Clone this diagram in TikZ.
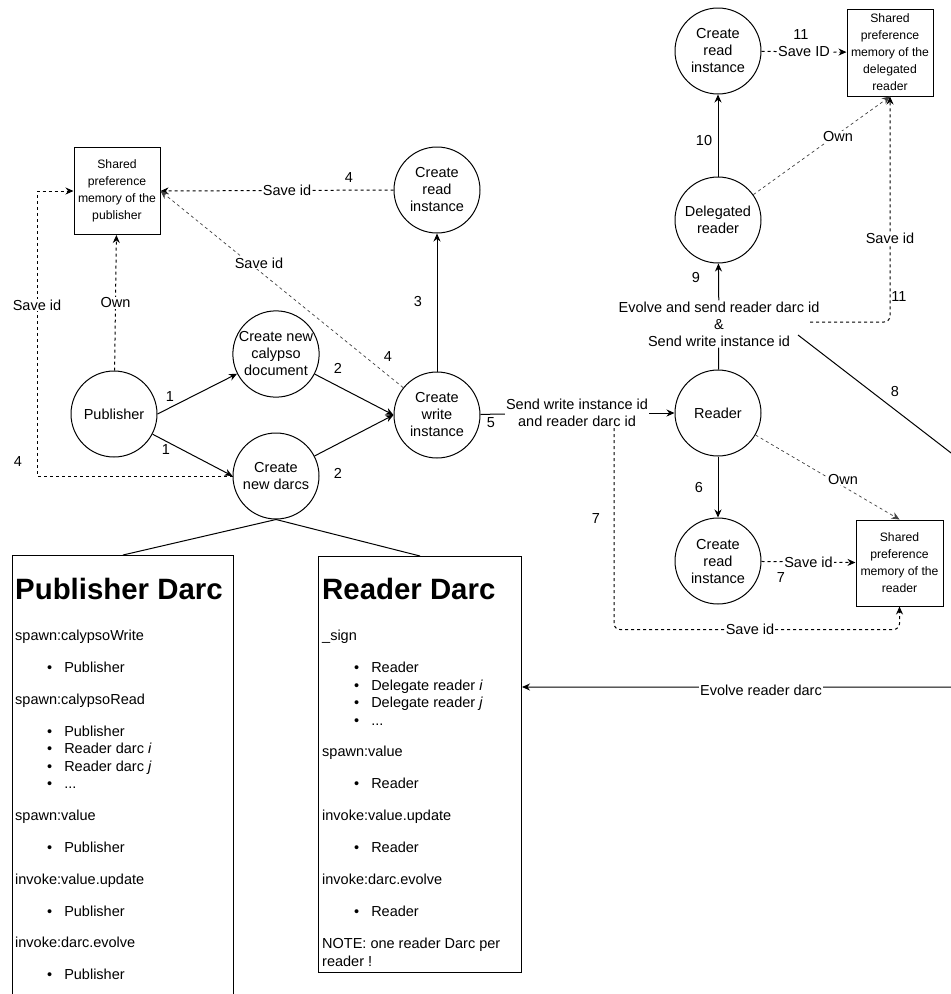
\documentclass[tikz,border=0pt]{standalone}
\usepackage{fontspec}
\setmainfont{Liberation Sans}
\usetikzlibrary{arrows.meta,calc}
\newcommand\darcitem[1]{\hspace*{32pt}\textbullet\hspace*{12pt}#1}
\tikzset{
  proc/.style={circle,draw,line width=1pt,minimum size=86pt,inner sep=0pt,align=center,font=\fontsize{14.5}{17}\selectfont},
  memo/.style={rectangle,draw,line width=1pt,minimum width=86pt,minimum height=87pt,inner sep=0pt,align=center,font=\fontsize{12.2}{17}\selectfont},
  darcbox/.style={rectangle,draw,line width=1pt,anchor=north west,inner sep=0pt},
  darctitle/.style={anchor=base west,inner sep=0pt,font=\fontsize{29.4}{34}\selectfont\bfseries},
  darclist/.style={anchor=north west,inner sep=0pt,align=left,font=\fontsize{14.5}{17.5}\selectfont},
  flow/.style={line width=1pt,-{Stealth[length=8pt,width=7pt]}},
  link/.style={line width=1pt},
  save/.style={flow,dash pattern=on 3pt off 3pt},
  own/.style={line width=0.7pt,draw=black!75,dash pattern=on 3pt off 3pt,-{Stealth[length=8pt,width=7pt]}},
  lbl/.style={fill=white,inner sep=1pt,font=\fontsize{14.5}{17}\selectfont},
  num/.style={inner sep=0pt,font=\fontsize{14.5}{17}\selectfont},
}

\begin{document}
\begin{tikzpicture}[x=1pt,y=-1pt]
  \useasboundingbox (0,0) rectangle (951,994);
  \clip (0,0) rectangle (951,994);
  % publisher side
  \node[proc] (pub) at (114,414) {Publisher};
  \node[proc] (calypso) at (276,354) {Create new\\calypso\\document};
  \node[proc] (darcs) at (276,476) {Create\\new darcs};
  \node[proc] (write) at (437,415) {Create\\write\\instance};
  \node[proc] (readA) at (437,190) {Create\\read\\instance};
  \node[memo] (pubmem) at (117,191) {Shared\\preference\\memory of the\\publisher};
  % reader side
  \node[proc] (reader) at (718,413) {Reader};
  \node[proc] (readB) at (718,561) {Create\\read\\instance};
  \node[memo,minimum width=87pt,minimum height=86pt] (readermem) at (899.5,563) {Shared\\preference\\memory of the\\reader};
  \node[proc] (delegated) at (718,220) {Delegated\\reader};
  \node[proc] (readC) at (718,51) {Create\\read\\instance};
  \node[memo] (delmem) at (890,52.5) {Shared\\preference\\memory of the\\delegated\\reader};
  \node[align=center,inner sep=1pt,font=\fontsize{14.5}{17}\selectfont] (sendtxt) at (577,413) {Send write instance id\\and reader darc id};
  \node[align=center,inner sep=1pt,font=\fontsize{14.5}{17}\selectfont] (evtxt) at (719,324) {Evolve and send reader darc id\\\&\\Send write instance id};
  % darcs
  \node[darcbox,minimum width=221pt,minimum height=460pt] (pubdarc) at (12,555) {};
  \node[darcbox,minimum width=203pt,minimum height=416pt] (readerdarc) at (318,556) {};
  \node[darctitle] (pubtitle) at (15,599) {Publisher Darc};
  \node[darctitle] (readertitle) at (322,599) {Reader Darc};
  \node[darclist] (publist) at (15,630) {spawn:calypsoWrite\\[14.5pt]
    \darcitem{Publisher}\\[14pt]
    spawn:calypsoRead\\[14.5pt]
    \darcitem{Publisher}\\
    \darcitem{Reader darc \textit{i}}\\
    \darcitem{Reader darc \textit{j}}\\
    \darcitem{...}\\[14pt]
    spawn:value\\[14.5pt]
    \darcitem{Publisher}\\[14.5pt]
    invoke:value.update\\[14.5pt]
    \darcitem{Publisher}\\[14pt]
    invoke:darc.evolve\\[14.5pt]
    \darcitem{Publisher}};
  \node[darclist] (readerlist) at (322,630) {\_sign\\[14.5pt]
    \darcitem{Reader}\\
    \darcitem{Delegate reader \textit{i}}\\
    \darcitem{Delegate reader \textit{j}}\\
    \darcitem{...}\\[14pt]
    spawn:value\\[14.5pt]
    \darcitem{Reader}\\[14.5pt]
    invoke:value.update\\[14.5pt]
    \darcitem{Reader}\\[14.5pt]
    invoke:darc.evolve\\[14.5pt]
    \darcitem{Reader}\\[14.5pt]
    NOTE: one reader Darc per\\
    reader !};
  % free ends
  \coordinate (leftrail) at (37,191);
  \coordinate (eightstart) at (798,335);
  \coordinate (edgetop) at (968,466);
  \coordinate (edgebot) at (968,687);
  \coordinate (evtap) at (810,322);
  % publisher flow
  \draw[flow] (pub.east) -- (calypso);
  \draw[flow] (pub) -- (darcs.west);
  \draw[flow] (calypso) -- (write.west);
  \draw[flow] (darcs) -- (write.west);
  \draw[flow] (write) -- (readA);
  \draw[save] (readA.west) -- (pubmem.east) node[lbl,pos=0.457] (saveA) {Save id};
  \draw[own] (write) -- (pubmem.east);
  \draw[save] (pub) -- (pubmem) node[lbl,pos=0.5] (ownA) {Own};
  \draw[save] (darcs.west) -| (leftrail) -- (pubmem.west);
  \draw[link] (darcs.south) -- (pubdarc.north);
  \draw[link] (darcs.south) -- (readerdarc.north);
  % reader flow
  \draw[link] (write) -- (sendtxt);
  \draw[flow] (sendtxt) -- (reader);
  \draw[flow] (reader) -- (readB);
  \draw[own] (reader) -- (readermem.north);
  \draw[save] (readB) -- (readermem) node[lbl,midway] (saveB) {Save id};
  \draw[save,rounded corners=6pt] ([xshift=37pt]sendtxt.south) |- ($(readermem.south)+(0,23)$) -- (readermem.south);
  \draw[link] (reader) -- (evtxt);
  \draw[flow] (evtxt) -- (delegated);
  \draw[flow] (delegated) -- (readC);
  \draw[save] (readC) -- (delmem) node[lbl,midway] (saveC) {Save ID};
  \draw[own] (delegated) -- (delmem.south);
  \draw[save,rounded corners=6pt] (evtap) -| (delmem.south);
  \draw[flow] (eightstart) -- (edgetop) -- (edgebot) -- (readerdarc.east |- edgebot);
  % labels
  \node[lbl] (saveW) at (259,263) {Save id};
  \node[lbl] (saveL) at (37,305) {Save id};
  \node[lbl] (ownB) at (838,137) {Own};
  \node[lbl] (ownC) at (843,479) {Own};
  \node[lbl] (saveR) at (750,629) {Save id};
  \node[lbl] (saveD) at (890,238) {Save id};
  \node[lbl] (evolve) at (761,690) {Evolve reader darc};
  % numbers
  \node[num] (n1a) at (170,397) {1};
  \node[num] (n1b) at (166,450) {1};
  \node[num] (n2a) at (338,368) {2};
  \node[num] (n2b) at (338,473) {2};
  \node[num] (n3) at (418,302) {3};
  \node[num] (n4a) at (349,178) {4};
  \node[num] (n4b) at (388,357) {4};
  \node[num] (n4c) at (18,462) {4};
  \node[num] (n5) at (491,423) {5};
  \node[num] (n6) at (699,487) {6};
  \node[num] (n7a) at (596,519) {7};
  \node[num] (n7b) at (781,578) {7};
  \node[num] (n8) at (895,392) {8};
  \node[num] (n9) at (696,278) {9};
  \node[num] (n10) at (704,141) {10};
  \node[num] (n11a) at (801,35) {11};
  \node[num] (n11b) at (899,297) {11};
\end{tikzpicture}
\end{document}
